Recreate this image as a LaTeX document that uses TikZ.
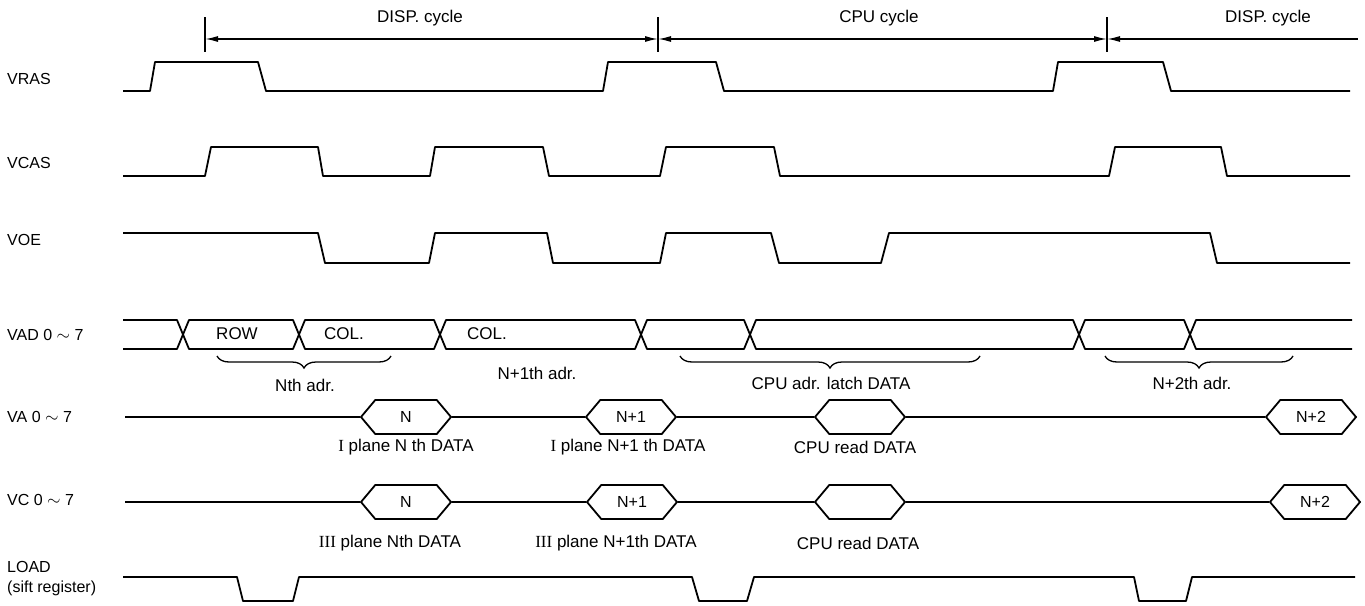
\documentclass[tikz,border=0pt]{standalone}
\usepackage{fontspec}
\setmainfont{Liberation Sans}
\newfontfamily\romanfont{Liberation Serif}
\usetikzlibrary{arrows.meta,decorations.pathreplacing,shapes.symbols}

\tikzset{
  wave/.style={line width=1.8pt, line join=round},
  dim/.style={line width=1.4pt},
  lbl/.style={font=\fontsize{16}{18}\selectfont, inner sep=0pt},
  txt/.style={font=\fontsize{17}{19}\selectfont, inner sep=0pt},
  datahex/.style={draw, line width=1.8pt, fill=white, signal, signal to=west and east,
    signal pointer angle=100, minimum width=90pt, minimum height=34pt, inner sep=0pt,
    font=\fontsize{16}{18}\selectfont},
  curly/.style={decorate, decoration={brace, mirror, amplitude=12pt}, line width=1.3pt},
  cyc/.style={dim, {Latex[length=13pt,width=6pt]}-{Latex[length=13pt,width=6pt]}},
}

\begin{document}
\begin{tikzpicture}[x=1pt, y=-1pt]
    \useasboundingbox (0,0) rectangle (1365,605);

    % cycle marks
    \draw [dim] (205,17) -- (205,52);
    \draw [dim] (658,17) -- (658,52);
    \draw [dim] (1107,17) -- (1107,52);
    \coordinate (c1) at (205,39);
    \coordinate (c2) at (658,39);
    \coordinate (c3) at (1107,39);
    \coordinate (c4) at (1358,39);
    \draw [cyc] (c1) -- (c2);
    \draw [cyc] (c2) -- (c3);
    \draw [dim, {Latex[length=13pt,width=6pt]}-] (c3) -- (c4);
    \path (420,18)  node [txt] (disp1) {DISP. cycle};
    \path (879,18)  node [txt] (cpu)   {CPU cycle};
    \path (1268,18) node [txt] (disp2) {DISP. cycle};

    % signal names
    \path (7,79)  node [lbl,anchor=west] (vras) {VRAS};
    \path (7,163) node [lbl,anchor=west] (vcas) {VCAS};
    \path (7,240) node [lbl,anchor=west] (voe)  {VOE};
    \path (7,335) node [lbl,anchor=west] (vad)  {VAD 0 $\sim$ 7};
    \path (7,417) node [lbl,anchor=west] (va)   {VA 0 $\sim$ 7};
    \path (7,500) node [lbl,anchor=west] (vc)   {VC 0 $\sim$ 7};
    \path (7,567) node [lbl,anchor=west] (load) {LOAD};
    \path (7,588) node [lbl,anchor=west] (sift) {(sift register)};

    % VRAS, VCAS, VOE
    \draw [wave] (123,91) -- (150,91) -- (155,62) -- (258,62) -- (266,91) -- (603,91)
      -- (608,62) -- (716,62) -- (724,91) -- (1053,91) -- (1058,62) -- (1163,62)
      -- (1171,91) -- (1350,91);
    \draw [wave] (123,176) -- (205,176) -- (211,147) -- (318,147) -- (323,176) -- (430,176)
      -- (435,147) -- (543,147) -- (549,176) -- (660,176) -- (666,147) -- (774,147)
      -- (780,176) -- (1109,176) -- (1115,147) -- (1221,147) -- (1227,176) -- (1350,176);
    \draw [wave] (123,233) -- (318,233) -- (325,263) -- (429,263) -- (435,233) -- (547,233)
      -- (553,263) -- (660,263) -- (666,233) -- (771,233) -- (779,263) -- (881,263)
      -- (889,233) -- (1210,233) -- (1217,263) -- (1350,263);

    % VAD bus
    \draw [wave] (123,320) -- (177,320) -- (183,334.5) -- (177,349) -- (123,349);
    \foreach \a/\b in {183/299, 299/440, 440/641, 641/750, 750/1079, 1079/1190}
      \draw [wave] (\a,334.5) -- (\a+6,320) -- (\b-6,320) -- (\b,334.5)
        -- (\b-6,349) -- (\a+6,349) -- cycle;
    \draw [wave] (1352,320) -- (1196,320) -- (1190,334.5) -- (1196,349) -- (1352,349);
    \path (237,334) node [txt] (row)  {ROW};
    \path (344,334) node [txt] (col1) {COL.};
    \path (487,334) node [txt] (col2) {COL.};

    \draw [curly] (217,356) -- (391,356);
    \draw [curly] (680,356) -- (980,356);
    \draw [curly] (1105,356) -- (1293,356);
    \path (305,385)  node [txt] (nadr)   {Nth adr.};
    \path (537,373)  node [txt] (n1adr)  {N+1th adr.};
    \path (831,383)  node [txt] (cpuadr) {CPU adr. latch DATA};
    \path (1192,383) node [txt] (n2adr)  {N+2th adr.};

    % VA bus
    \coordinate (vas) at (125,417);
    \path (406,417)  node [datahex] (van)   {N};
    \path (631,417)  node [datahex] (van1)  {N+1};
    \path (860,417)  node [datahex] (vacpu) {};
    \path (1311,417) node [datahex] (van2)  {N+2};
    \draw [wave] (vas) -- (van.west);
    \draw [wave] (van.east) -- (van1.west);
    \draw [wave] (van1.east) -- (vacpu.west);
    \draw [wave] (vacpu.east) -- (van2.west);
    \path (406,447) node [txt] (vat1) {{\romanfont I} plane N th DATA};
    \path (628,447) node [txt] (vat2) {{\romanfont I} plane N+1 th DATA};
    \path (855,447) node [txt] (vat3) {CPU read DATA};

    % VC bus
    \coordinate (vcs) at (125,502);
    \path (406,502)  node [datahex] (vcn)   {N};
    \path (632,502)  node [datahex] (vcn1)  {N+1};
    \path (860,502)  node [datahex] (vccpu) {};
    \path (1315,502) node [datahex] (vcn2)  {N+2};
    \draw [wave] (vcs) -- (vcn.west);
    \draw [wave] (vcn.east) -- (vcn1.west);
    \draw [wave] (vcn1.east) -- (vccpu.west);
    \draw [wave] (vccpu.east) -- (vcn2.west);
    \path (390,543) node [txt] (vct1) {{\romanfont III} plane Nth DATA};
    \path (616,543) node [txt] (vct2) {{\romanfont III} plane N+1th DATA};
    \path (858,543) node [txt] (vct3) {CPU read DATA};

    % LOAD
    \draw [wave] (123,577) -- (237,577) -- (243,601) -- (293,601) -- (299,577) -- (692,577)
      -- (699,601) -- (747,601) -- (754,577) -- (1134,577) -- (1139,601) -- (1186,601)
      -- (1192,577) -- (1355,577);
\end{tikzpicture}
\end{document}
